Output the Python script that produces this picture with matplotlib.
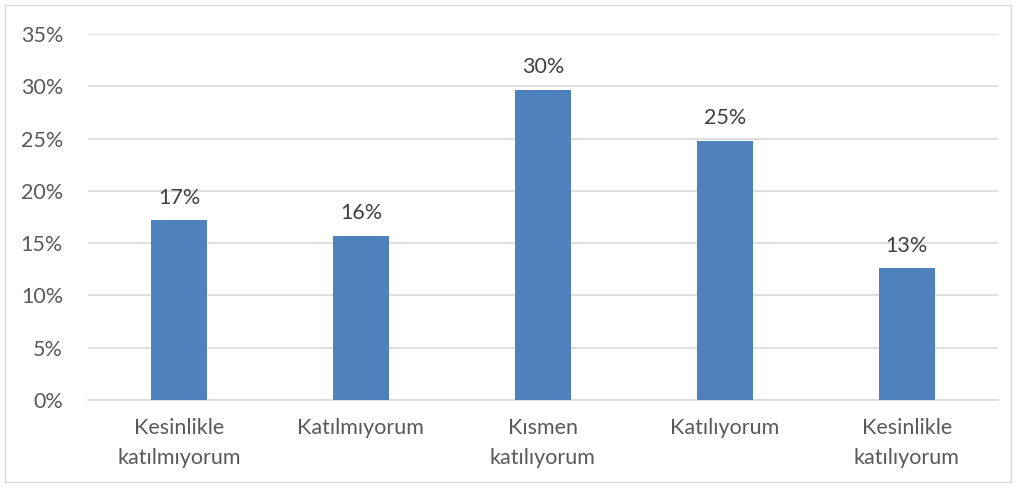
import matplotlib.pyplot as plt
from matplotlib.patches import Rectangle

categories = ['Kesinlikle\nkatılmıyorum', 'Katılmıyorum', 'Kısmen\nkatılıyorum',
              'Katılıyorum', 'Kesinlikle\nkatılıyorum']
values = [17.2, 15.7, 29.7, 24.8, 12.6]
labels = ['17%', '16%', '30%', '25%', '13%']

plt.rcParams['font.family'] = ['Lato', 'DejaVu Sans']
text_col = '#595959'

fig = plt.figure(figsize=(10.16, 4.87), dpi=100)
ax = fig.add_axes([0.0866, 0.1786, 0.8954, 0.7514])

x = range(len(categories))
ax.bar(x, values, width=0.31, color='#4f81bd', zorder=3)
for i, v in enumerate(values):
    ax.text(i, v + 1.2, labels[i], ha='center', va='bottom', fontsize=15.5, color='#404040')

ax.set_xlim(-0.5, len(categories) - 0.5)
ax.set_ylim(0, 35)
ax.set_yticks(range(0, 36, 5))
ax.set_yticklabels(['%d%%' % t for t in range(0, 36, 5)])
ax.set_xticks(list(x))
ax.set_xticklabels(categories, linespacing=1.65)
ax.yaxis.grid(True, color='#d9d9d9', linewidth=1.2, zorder=0)
ax.tick_params(axis='both', length=0, labelsize=15.5, colors=text_col)
ax.tick_params(axis='y', pad=18)
ax.tick_params(axis='x', pad=13)
for s in ['top', 'right', 'left']:
    ax.spines[s].set_visible(False)
ax.spines['bottom'].set_color('#d9d9d9')
ax.spines['bottom'].set_linewidth(1.2)

fig.patches.append(Rectangle((0.005, 0.01), 0.99, 0.98, transform=fig.transFigure,
                             fill=False, edgecolor='#d9d9d9', linewidth=1))

fig.savefig('out.png', dpi=100)
